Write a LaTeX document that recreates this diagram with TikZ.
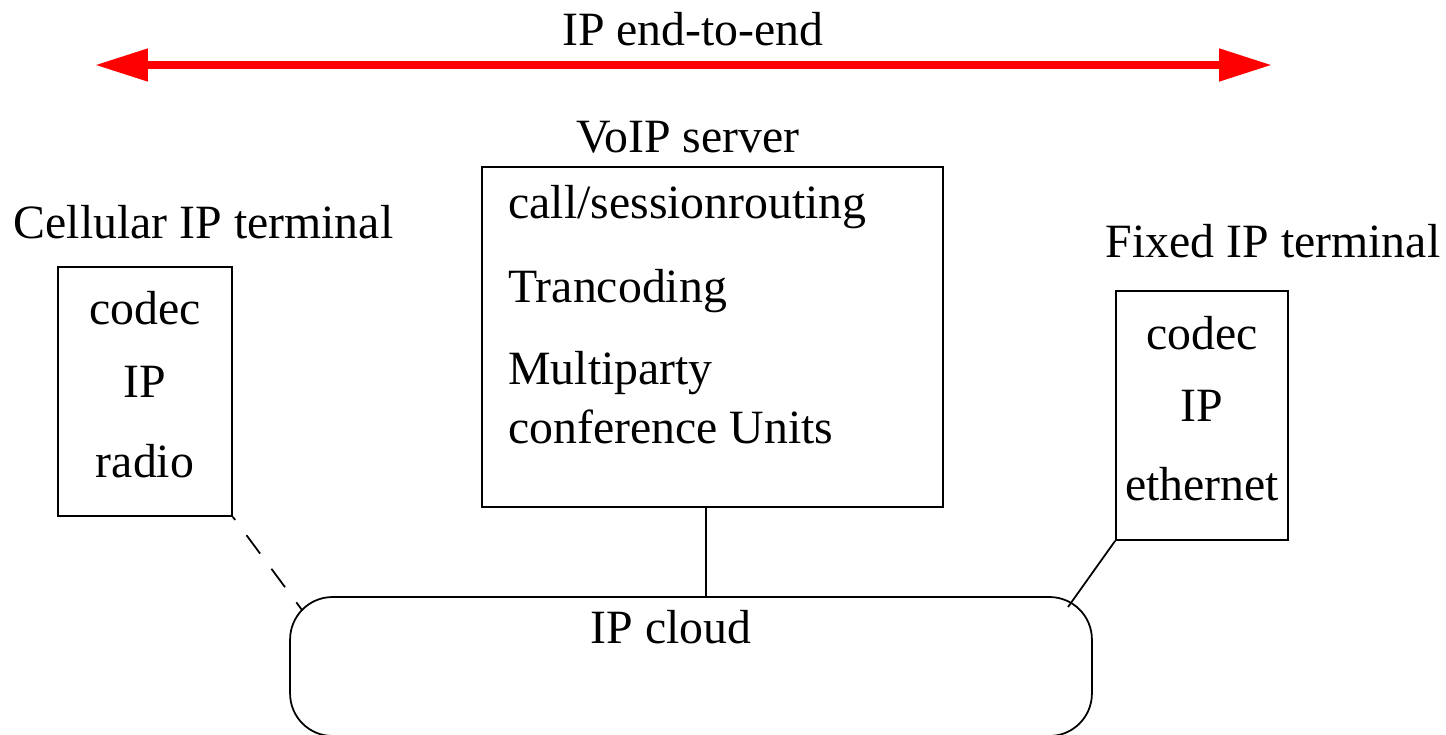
\documentclass[tikz,border=0pt]{standalone}
\usepackage{fontspec}
\setmainfont{Liberation Serif}
\usetikzlibrary{arrows.meta}

\begin{document}
\begin{tikzpicture}[
    x=0.02cm, y=-0.02cm,
    font=\fontsize{27.2}{32}\selectfont,
    box/.style={rectangle, draw, line width=1pt, inner sep=0pt},
    txt/.style={inner sep=0pt, anchor=base},
    txtl/.style={inner sep=0pt, anchor=base west},
    link/.style={line width=1pt},
    span/.style={{Triangle[length=1.06cm, width=0.62cm]}-{Triangle[length=1.06cm, width=0.62cm]}, red, line width=4.5pt}
]
\clip (0,0) rectangle (1446,734);

% top arrow
\node[txt] (e2e) at (693,45) {IP end-to-end};
\coordinate (spanL) at (95,65);
\coordinate (spanR) at (1272,65);
\draw[span] (spanL) -- (spanR);

% boxes
\node[box, minimum width=3.48cm, minimum height=4.98cm] (cell) at (145,391.5) {};
\node[box, minimum width=9.22cm, minimum height=6.8cm] (server) at (712.5,337) {};
\node[box, minimum width=3.44cm, minimum height=4.98cm] (fixed) at (1202,415.5) {};
\node[box, rounded corners=0.85cm, minimum width=16.04cm, minimum height=2.78cm] (cloud) at (691,666.5) {};

% labels
\node[txt] (celllbl) at (203.5,238) {Cellular IP terminal};
\node[txt] (serverlbl) at (688,152) {VoIP server};
\node[txt] (fixedlbl) at (1273,257) {Fixed IP terminal};
\node[txt] (cloudlbl) at (671,643) {IP cloud};

\node[txt] (cellcodec) at (145,324) {codec};
\node[txt] (cellip) at (145,397) {IP};
\node[txt] (cellradio) at (145,477) {radio};

\node[txt] (fixcodec) at (1202,349) {codec};
\node[txt] (fixip) at (1202,421) {IP};
\node[txt] (fixeth) at (1202,500) {ethernet};

\node[txtl] (routing) at (508,218) {call/sessionrouting};
\node[txtl] (transc) at (508,302) {Trancoding};
\node[txtl] (multi) at (508,384) {Multiparty};
\node[txtl] (confu) at (508,443) {conference Units};

% links to the cloud
\coordinate (cloudL) at (302,610);
\coordinate (cloudR) at (1068,607);
\draw[link, dash pattern=on 13pt off 10.8pt, dash phase=10.8pt] (cell.south east) -- (cloudL);
\draw[link] ([xshift=-0.13cm]server.south) -- ([xshift=-0.13cm]server.south |- cloud.north);
\draw[link] (fixed.south west) -- (cloudR);

\end{tikzpicture}
\end{document}
